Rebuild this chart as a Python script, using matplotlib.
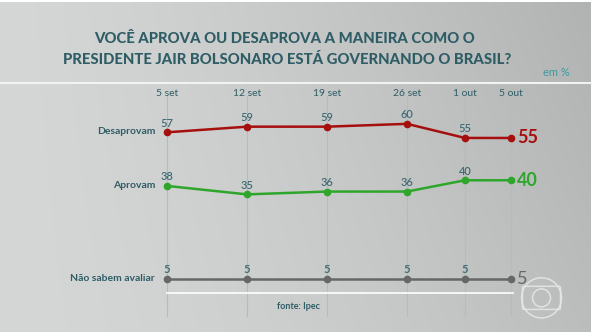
import numpy as np
import matplotlib
matplotlib.use("Agg")
import matplotlib.pyplot as plt
from matplotlib.patches import Circle, FancyBboxPatch

# Data
dates = ["5 set", "12 set", "19 set", "26 set", "1 out", "5 out"]
desaprovam = [57, 59, 59, 60, 55, 55]
aprovam = [38, 35, 36, 36, 40, 40]
nao_sabem = [5, 5, 5, 5, 5, 5]
series_names = ["Desaprovam", "Aprovam", "Não sabem avaliar"]

# Horizontal spacing of the columns (as drawn, not proportional to days)
xpos = [0, 1, 2, 3, 3.725, 4.3]

teal = "#2f5d66"
colors = ["#a5100f", "#2ea62c", "#666868"]

plt.rcParams["font.family"] = ["Lato", "DejaVu Sans"]

fig = plt.figure(figsize=(6, 3.36), dpi=100)
fig.patch.set_facecolor("white")

# gradient background
bg = fig.add_axes([0, 0.012, 0.985, 0.982])
grad = np.linspace(0, 1, 256)
gx, gy = np.meshgrid(grad, np.linspace(0, 1, 64))
g = 0.835 - 0.10 * gx ** 1.5 - 0.04 * (1 - gy) * gx
bg.imshow(np.dstack([g, g + 0.008, g + 0.004]), aspect="auto", extent=[0, 1, 0, 1])
bg.axis("off")

ax = fig.add_axes([0, 0, 1, 1], facecolor="none")
ax.set_xlim(-167 / 80, (600 - 167) / 80)
ax.set_ylim(-15.2, 103.9)
ax.axis("off")

# vertical guides
for x in xpos:
    ax.plot([x, x], [-8, 70], color="#b9bbba", lw=0.8, zorder=1)

# date labels
for x, d in zip(xpos, dates):
    ax.text(x, 70.8, d, ha="center", va="center", fontsize=7.5, color=teal)

all_series = [desaprovam, aprovam, nao_sabem]
for name, vals, c in zip(series_names, all_series, colors):
    ax.plot(xpos, vals, color=c, lw=1.8, marker="o", ms=4.5, zorder=3)
    for x, v in zip(xpos[:-1], vals[:-1]):
        ax.text(x, v + 1.3, str(v), ha="center", va="bottom", fontsize=8,
                color="#3f6b75", fontweight="bold" if name.startswith("Não") else "semibold")
    ax.text(xpos[-1] + 0.08, vals[-1], str(vals[-1]), ha="left", va="center",
            fontsize=13, color=c, fontweight="bold" if c != colors[2] else "normal")
    ax.text(-0.15, vals[0] + 0.3, name, ha="right", va="center", fontsize=7.5,
            color=teal, fontweight="bold")

# white baseline
ax.plot([xpos[0], xpos[-1] + 0.03], [0, 0], color="white", lw=1.2, zorder=2)

# title
fig.text(0.475, 0.884, "VOCÊ APROVA OU DESAPROVA A MANEIRA COMO O",
         ha="center", va="center", fontsize=10.7, fontweight="black", color=teal)
fig.text(0.479, 0.821, "PRESIDENTE JAIR BOLSONARO ESTÁ GOVERNANDO O BRASIL?",
         ha="center", va="center", fontsize=10.7, fontweight="black", color=teal)
fig.text(0.905, 0.785, "em %", ha="left", va="center", fontsize=8, color="#3a9aa0")
fig.add_artist(plt.Line2D([0, 0.985], [0.753, 0.753], color="#f2f2f2", lw=1.5))

fig.text(0.497, 0.089, "fonte: Ipec", ha="center", va="center", fontsize=6.5,
         fontweight="bold", color=teal)

# globo-like watermark, drawn in pixel-like units
logo = fig.add_axes([0.84, 0.0, 0.125, 0.224], facecolor="none")
logo.set_xlim(0, 75)
logo.set_ylim(0, 75)
logo.axis("off")
logo.add_patch(Circle((37.5, 38), 20, fill=False, ec="#e8e8e8", lw=1.1, alpha=0.85))
logo.add_patch(FancyBboxPatch((20, 28), 35, 20, boxstyle="round,pad=1.5",
                              fill=False, ec="#e8e8e8", lw=1.1, alpha=0.85))
logo.add_patch(Circle((37.5, 38), 9, fill=False, ec="#e8e8e8", lw=1.1, alpha=0.85))

fig.savefig("out.png", dpi=100)
